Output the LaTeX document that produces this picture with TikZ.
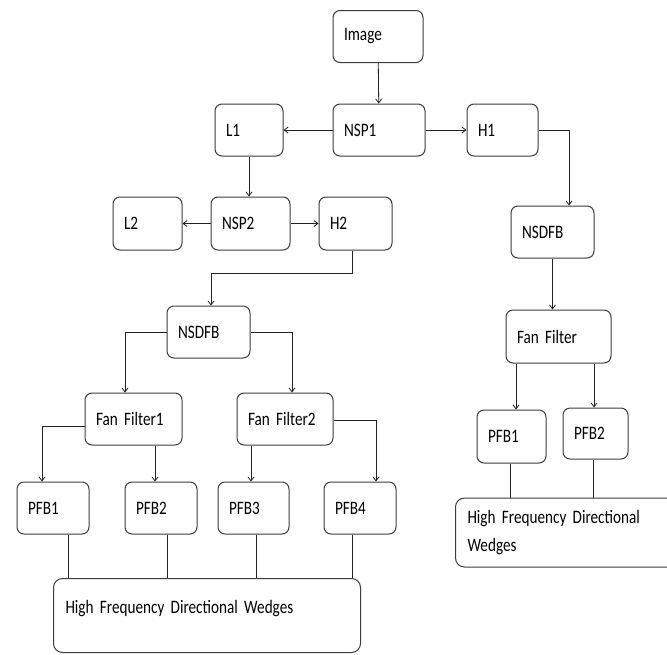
\documentclass[tikz,border=0pt]{standalone}
\usepackage{fontspec}
\setmainfont{Carlito}[FakeStretch=0.8, WordSpace=0.75]
\usetikzlibrary{arrows.meta, positioning}
\definecolor{edge}{RGB}{60, 60, 60}
\definecolor{wire}{RGB}{35, 35, 35}

\begin{document}
\begin{tikzpicture}[x=1pt, y=-1pt,
            font=\fontsize{19}{28}\selectfont,
            blk/.style={draw=edge, line width=1pt, rounded corners=7pt, minimum width=#1, text width=#1-22pt, minimum height=52pt, inner xsep=11pt, align=left},
            wedge/.style={draw=edge, line width=1pt, rounded corners=9pt, inner xsep=12pt, inner ysep=0pt, align=left, anchor=north west},
            arrow/.style={-{Straight Barb[length=4pt,width=6pt]}, line width=0.8pt, wire},
            link/.style={line width=0.8pt, wire}
        ]
            \useasboundingbox (0,0) rectangle (667,654);

            % First level split
            \node[blk=90pt] (img) at (378,36.5) {Image};
            \node[blk=92pt] (nsp1) at (379,130) {NSP1};
            \node[blk=68pt] (l1) at (249,130) {L1};
            \node[blk=71pt] (h1) at (502.5,130) {H1};

            \draw[arrow] (img) -- (nsp1);
            \draw[arrow] (nsp1) -- (l1);
            \draw[arrow] (nsp1) -- (h1);

            % Second level split
            \node[blk=69pt, minimum height=53pt] (l2) at (147.5,223.5) {L2};
            \node[blk=79pt, minimum height=53pt] (nsp2) at (250.5,223.5) {NSP2};
            \node[blk=73pt, minimum height=53pt] (h2) at (355.5,223.5) {H2};

            \draw[arrow] (l1.south) -- (l1.south |- nsp2.north);
            \draw[arrow] (nsp2) -- (l2);
            \draw[arrow] (nsp2) -- (h2);

            % Directional filter bank on H2
            \node[blk=83pt] (nsdfb1) at (208.5,332) {NSDFB};
            \node[blk=97pt] (ff1) at (133.5,419) {Fan Filter1};
            \node[blk=96pt] (ff2) at (285,419) {Fan Filter2};
            \node[blk=72pt] (pfb1) at (53,508) {PFB1};
            \node[blk=72pt] (pfb2) at (161,508) {PFB2};
            \node[blk=71pt] (pfb3) at (253.5,508) {PFB3};
            \node[blk=72pt] (pfb4) at (360,508) {PFB4};
            \node[wedge, text width=283pt, text height=35pt, text depth=39pt] (hfdw1) at (53,578) {High Frequency Directional Wedges};

            \draw[arrow] ([xshift=-3.5pt]h2.south) -- ++(0,23) -| ([xshift=2.5pt]nsdfb1.north);
            \draw[arrow] (nsdfb1.west) -| ([xshift=-8.5pt]ff1.north);
            \draw[arrow] (nsdfb1.east) -| ([xshift=7pt]ff2.north);
            \draw[arrow] ([yshift=-7pt]ff1.west) -| ([xshift=-11pt]pfb1.north);
            \draw[arrow] ([xshift=21.5pt]ff1.south) -- ([xshift=-6pt]pfb2.north);
            \draw[arrow] ([xshift=-34pt]ff2.south) -- ([xshift=-2.5pt]pfb3.north);
            \draw[arrow] ([yshift=-1pt]ff2.east) -| ([xshift=16pt]pfb4.north);

            \foreach \p/\dx in {pfb1/15, pfb2/6, pfb3/2.5, pfb4/-8}
                \draw[link] ([xshift=\dx pt]\p.south) -- ([xshift=\dx pt]\p.south |- hfdw1.north);

            % Directional filter bank on H1
            \node[blk=83pt] (nsdfb2) at (552.5,232) {NSDFB};
            \node[blk=105pt, minimum height=53pt] (fan) at (558.5,336.5) {Fan Filter};
            \node[blk=69pt, minimum height=53pt] (rpfb1) at (511.5,436.5) {PFB1};
            \node[blk=65pt, minimum height=51pt] (rpfb2) at (595.5,433.5) {PFB2};
            \node[wedge, text width=216pt, minimum height=69pt, anchor=west] (hfdw2) at (455,532.5) {High Frequency Directional\\Wedges};

            \draw[arrow] (h1.east) -| ([xshift=16.5pt]nsdfb2.north);
            \draw[arrow] (nsdfb2.south) -- (nsdfb2.south |- fan.north);
            \draw[arrow] ([xshift=-42.5pt]fan.south) -- ([xshift=4.5pt]rpfb1.north);
            \draw[arrow] ([xshift=35.5pt]fan.south) -- ([xshift=-1.5pt]rpfb2.north);
            \draw[link] ([xshift=-1.5pt]rpfb1.south) -- ([xshift=-1.5pt]rpfb1.south |- hfdw2.north);
            \draw[link] ([xshift=-2.5pt]rpfb2.south) -- ([xshift=-2.5pt]rpfb2.south |- hfdw2.north);

        \end{tikzpicture}
\end{document}
